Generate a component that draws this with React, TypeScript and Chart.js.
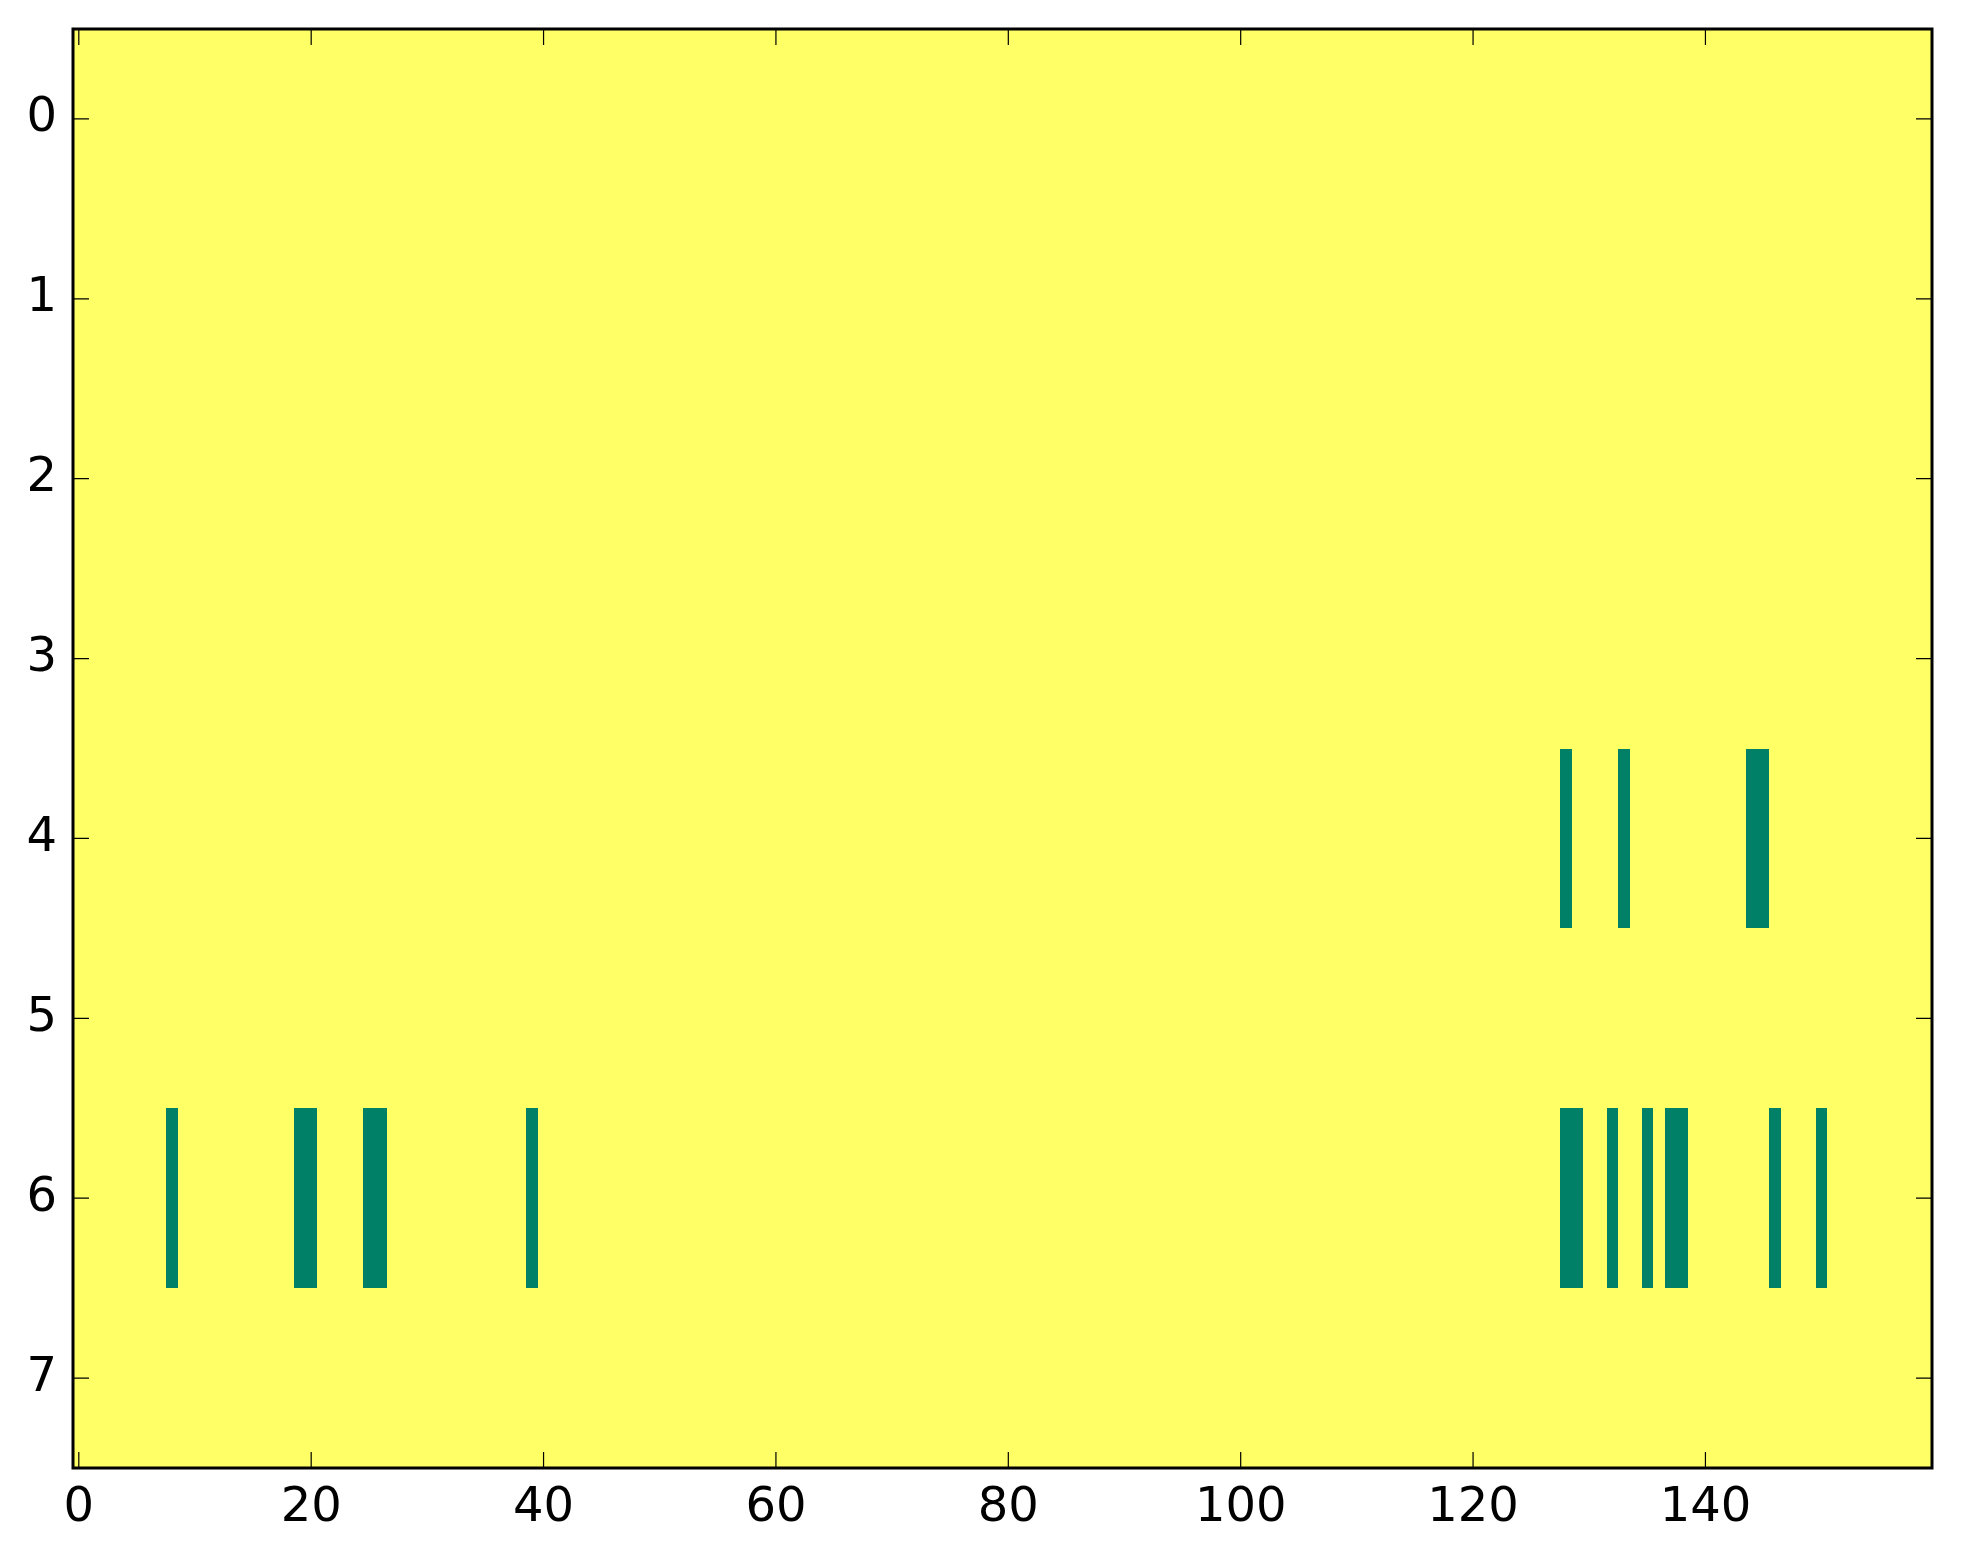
import React, { useEffect, useRef } from "react";
import { Chart, registerables } from "chart.js";

Chart.register(...registerables);

// ---- data ----
const rowCount = 8;
const colCount = 160;
const yTickValues = [0, 1, 2, 3, 4, 5, 6, 7];
const xTickValues = [0, 20, 40, 60, 80, 100, 120, 140];
// columns whose value is 0 (low colour); every other cell is 1
const row4LowCols = [128, 133, 144, 145];
const row6LowCols = [8, 19, 20, 25, 26, 39, 128, 129, 132, 135, 137, 138, 146, 150];
const lowColsByRow: Record<number, number[]> = { 4: row4LowCols, 6: row6LowCols };

const HIGH_COLOR = "#ffff66";
const LOW_COLOR = "#008066";
const FONT = "'DejaVu Sans', sans-serif";

function buildMatrix(): number[][] {
  const m: number[][] = [];
  for (let r = 0; r < rowCount; r++) {
    const row: number[] = [];
    const lows = lowColsByRow[r] || [];
    for (let c = 0; c < colCount; c++) row.push(lows.includes(c) ? 0 : 1);
    m.push(row);
  }
  return m;
}

const heatmapPlugin = {
  id: "heatmap",
  beforeDatasetsDraw(chart: any) {
    const { ctx, scales } = chart;
    const xs = scales.x;
    const ys = scales.y;
    const matrix = buildMatrix();
    ctx.save();
    for (let r = 0; r < matrix.length; r++) {
      const row = matrix[r];
      let start = 0;
      for (let c = 1; c <= row.length; c++) {
        if (c === row.length || row[c] !== row[start]) {
          const x0 = Math.round(xs.getPixelForValue(start - 0.5));
          const x1 = Math.round(xs.getPixelForValue(c - 0.5));
          const y0 = Math.round(ys.getPixelForValue(r - 0.5));
          const y1 = Math.round(ys.getPixelForValue(r + 0.5));
          ctx.fillStyle = row[start] ? HIGH_COLOR : LOW_COLOR;
          ctx.fillRect(x0, Math.min(y0, y1), x1 - x0, Math.abs(y1 - y0));
          start = c;
        }
      }
    }
    ctx.restore();
  },
  afterDraw(chart: any) {
    const { ctx, chartArea, scales } = chart;
    const { left, right, top, bottom } = chartArea;
    const xs = scales.x;
    const ys = scales.y;
    const tl = 16;
    ctx.save();
    ctx.strokeStyle = "#000";
    ctx.lineWidth = 1.2;
    ctx.beginPath();
    for (const v of xTickValues) {
      const px = xs.getPixelForValue(v);
      ctx.moveTo(px, bottom);
      ctx.lineTo(px, bottom - tl);
      ctx.moveTo(px, top);
      ctx.lineTo(px, top + tl);
    }
    for (const v of yTickValues) {
      const py = ys.getPixelForValue(v);
      ctx.moveTo(left, py);
      ctx.lineTo(left + tl, py);
      ctx.moveTo(right, py);
      ctx.lineTo(right - tl, py);
    }
    ctx.stroke();
    ctx.lineWidth = 3;
    ctx.strokeRect(left, top, right - left, bottom - top);
    ctx.restore();
  },
};

export default function App() {
  const canvasRef = useRef<HTMLCanvasElement | null>(null);

  useEffect(() => {
    if (!canvasRef.current) return;
    const chart = new Chart(canvasRef.current, {
      type: "scatter",
      data: {
        datasets: [
          {
            data: [],
            pointRadius: 0,
          },
        ],
      },
      options: {
        animation: false,
        responsive: false,
        layout: { padding: { top: 29, right: 31, left: 0, bottom: 0 } },
        plugins: {
          legend: { display: false },
          tooltip: { enabled: false },
        },
        scales: {
          x: {
            type: "linear",
            min: -0.5,
            max: colCount - 0.5,
            grid: { display: false, drawTicks: false },
            border: { display: false },
            afterBuildTicks: (scale: any) => {
              scale.ticks = xTickValues.map((v) => ({ value: v }));
            },
            afterFit: (scale: any) => {
              scale.height = 96;
              scale.paddingLeft = 0;
              scale.paddingRight = 0;
            },
            ticks: {
              padding: 12,
              maxRotation: 0,
              autoSkip: false,
              color: "#000",
              font: { family: FONT, size: 48 },
              callback: (v: any) => String(v),
            },
          },
          y: {
            type: "linear",
            reverse: true,
            min: -0.5,
            max: rowCount - 0.5,
            grid: { display: false, drawTicks: false },
            border: { display: false },
            afterBuildTicks: (scale: any) => {
              scale.ticks = yTickValues.map((v) => ({ value: v }));
            },
            afterFit: (scale: any) => {
              scale.width = 73;
              scale.paddingTop = 0;
              scale.paddingBottom = 0;
            },
            ticks: {
              padding: 16,
              autoSkip: false,
              color: "#000",
              font: { family: FONT, size: 48 },
              callback: (v: any) => String(v),
            },
          },
        },
      },
      plugins: [heatmapPlugin],
    });
    return () => chart.destroy();
  }, []);

  return (
    <div style={{ position: "absolute", left: 0, top: 0, width: 1963, height: 1564, background: "#fff" }}>
      <canvas ref={canvasRef} width={1963} height={1564} style={{ width: 1963, height: 1564 }} />
    </div>
  );
}
